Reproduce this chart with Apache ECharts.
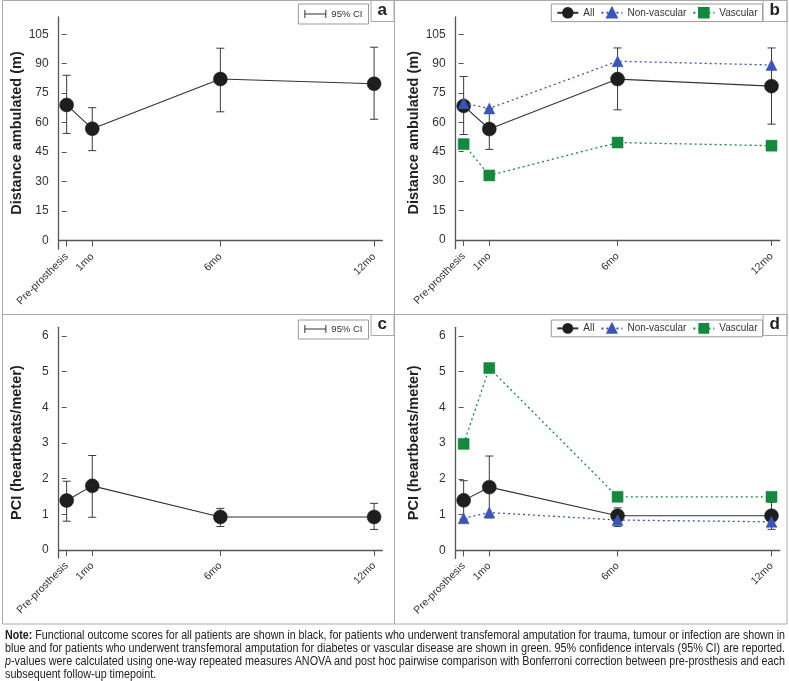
<!DOCTYPE html>
<html>
<head>
<meta charset="utf-8">
<script src="https://cdn.jsdelivr.net/npm/echarts@6/dist/echarts.min.js"></script>
<style>
  html, body { margin: 0; padding: 0; background: #fff; }
  #wrap { position: relative; width: 789px; height: 681px; overflow: hidden; }
  #chart { position: absolute; left: 0; top: 0; width: 789px; height: 681px; }
  #note { position: absolute; left: 5px; top: 629px; width: 780px;
          font-family: "Liberation Sans", Arial, sans-serif;
          font-size: 12.5px; line-height: 13px; color: #222; }
  #note .ln { display: block; height: 13px; white-space: nowrap; }
  #note .ln span { display: inline-block; white-space: nowrap; transform-origin: 0 0; }
</style>
</head>
<body>
<div id="wrap">
  <div id="chart"></div>
  <div id="note">
    <div class="ln"><span><b>Note:</b> Functional outcome scores for all patients are shown in black, for patients who underwent transfemoral amputation for trauma, tumour or infection are shown in</span></div>
    <div class="ln"><span>blue and for patients who underwent transfemoral amputation for diabetes or vascular disease are shown in green. 95% confidence intervals (95% CI) are reported.</span></div>
    <div class="ln"><span><i>p</i>-values were calculated using one-way repeated measures ANOVA and post hoc pairwise comparison with Bonferroni correction between pre-prosthesis and each</span></div>
    <div class="ln"><span>subsequent follow-up timepoint.</span></div>
  </div>
</div>
<script>
// ---- data ----
const months = [0, 1, 6, 12];
const tickLabels = ['Pre-prosthesis', '1mo', '6mo', '12mo'];
const distTicks = [0, 15, 30, 45, 60, 75, 90, 105];
const pciTicks = [0, 1, 2, 3, 4, 5, 6];

// panel a: distance, all patients
const distAllA = [69.0, 56.9, 82.2, 79.8];
const distAllALo = [54.5, 45.7, 65.5, 61.7];
const distAllAHi = [84.1, 67.6, 97.9, 98.4];
// panel b: distance by group
const distAllB = [68.4, 56.6, 82.1, 78.5];
const distAllBLo = [53.8, 46.2, 66.4, 59.1];
const distAllBHi = [83.4, 67.0, 98.0, 98.0];
const distNonVasc = [69.8, 67.1, 91.2, 89.3];
const distVasc = [48.9, 32.9, 49.7, 48.1];
// panel c: PCI, all patients
const pciAllC = [1.39, 1.80, 0.93, 0.93];
const pciAllCLo = [0.81, 0.92, 0.66, 0.58];
const pciAllCHi = [1.93, 2.65, 1.17, 1.31];
// panel d: PCI by group
const pciAllD = [1.40, 1.77, 0.97, 0.97];
const pciAllDLo = [0.88, 0.91, 0.67, 0.59];
const pciAllDHi = [1.95, 2.64, 1.19, 1.35];
const pciNonVasc = [0.90, 1.06, 0.85, 0.80];
const pciVasc = [2.98, 5.10, 1.50, 1.50];

// ---- fit note lines to the justified width ----
(function () {
  const spans = Array.from(document.querySelectorAll('#note .ln span'));
  const target = 780;
  const scales = [];
  spans.forEach((s, i) => {
    if (i < spans.length - 1) {
      const sc = target / s.getBoundingClientRect().width;
      scales.push(sc);
      s.style.transform = 'scaleX(' + sc + ')';
    }
  });
  const avg = scales.reduce((a, b) => a + b, 0) / scales.length;
  spans[spans.length - 1].style.transform = 'scaleX(' + avg + ')';
})();

// ---- styling ----
const FONT = '"Liberation Sans", Arial, sans-serif';
const AXIS_COLOR = '#555';
const TEXT_COLOR = '#333';
const BLACK = '#1e1e1e';
const BLUE = '#3a55b8';
const GREEN = '#12893d';
const BORDER = '#aaa';

const pts = (vals) => months.map((m, i) => [m, vals[i]]);
const errPts = (lo, hi) => months.map((m, i) => [m, lo[i], hi[i]]);

function errRender(params, api) {
  const x = api.value(0);
  const pLo = api.coord([x, api.value(1)]);
  const pHi = api.coord([x, api.value(2)]);
  const w = 4;
  const style = { stroke: '#3a3a3a', lineWidth: 1, fill: 'none' };
  return {
    type: 'group',
    children: [
      { type: 'line', shape: { x1: pLo[0], y1: pLo[1], x2: pHi[0], y2: pHi[1] }, style },
      { type: 'line', shape: { x1: pLo[0] - w, y1: pLo[1], x2: pLo[0] + w, y2: pLo[1] }, style },
      { type: 'line', shape: { x1: pHi[0] - w, y1: pHi[1], x2: pHi[0] + w, y2: pHi[1] }, style }
    ]
  };
}

const gridsPos = [
  { left: 58.7, top: 17, width: 323.6, height: 232 },
  { left: 455.7, top: 17, width: 324, height: 231.5 },
  { left: 58.7, top: 327.3, width: 323.6, height: 230.7 },
  { left: 455.7, top: 327.3, width: 324, height: 231 }
];

const xAxes = gridsPos.map((g, i) => ({
  type: 'value', gridIndex: i, min: -0.31, max: 12.32,
  axisLine: { show: true, lineStyle: { color: AXIS_COLOR, width: 1.3 } },
  axisTick: { show: true, length: 6, lineStyle: { color: AXIS_COLOR, width: 1 }, customValues: months },
  axisLabel: {
    customValues: months, rotate: 45, margin: 6,
    fontFamily: FONT, fontSize: 10.5, color: TEXT_COLOR,
    formatter: (v) => { const k = months.indexOf(v); return k >= 0 ? tickLabels[k] : ''; }
  },
  splitLine: { show: false }
}));

const yAxes = [];
gridsPos.forEach((g, i) => {
  const isDist = i < 2;
  const ticks = isDist ? distTicks : pciTicks;
  const mn = isDist ? -4.4 : -0.22;
  const mx = isDist ? 113.8 : 6.24;
  yAxes.push({
    type: 'value', gridIndex: i, min: mn, max: mx, offset: 3,
    name: isDist ? 'Distance ambulated (m)' : 'PCI (heartbeats/meter)',
    nameLocation: 'middle', nameGap: 31,
    nameTextStyle: { fontFamily: FONT, fontSize: 14.5, fontWeight: 'bold', color: '#222' },
    axisLine: { show: false },
    axisTick: { show: true, length: 5, customValues: ticks, lineStyle: { color: AXIS_COLOR } },
    axisLabel: { customValues: ticks, margin: 7, fontFamily: FONT, fontSize: 12, color: TEXT_COLOR },
    splitLine: { show: false }
  });
  yAxes.push({
    type: 'value', gridIndex: i, min: mn, max: mx, position: 'left',
    axisLine: { show: true, lineStyle: { color: AXIS_COLOR, width: 1.3 } },
    axisTick: { show: false }, axisLabel: { show: false }, splitLine: { show: false }
  });
});

function errSeries(name, gi, lo, hi) {
  return {
    name, type: 'custom', xAxisIndex: gi, yAxisIndex: gi * 2,
    renderItem: errRender, data: errPts(lo, hi), itemStyle: { color: '#333' },
    encode: { x: 0, y: [1, 2] }, z: 1, silent: true
  };
}
function lineSeries(name, gi, vals, color, symbol, size, dotted) {
  return {
    name, type: 'line', xAxisIndex: gi, yAxisIndex: gi * 2, data: pts(vals),
    symbol, symbolSize: size, showSymbol: true,
    itemStyle: { color, borderColor: color, borderWidth: 0.5 },
    lineStyle: { color: dotted ? color : '#333', width: dotted ? 1.3 : 1.1, type: dotted ? [2, 3] : 'solid' },
    z: dotted ? 3 : 2, animation: false
  };
}

const series = [
  errSeries('95% CI', 0, distAllALo, distAllAHi),
  lineSeries('All_a', 0, distAllA, BLACK, 'circle', 14, false),
  errSeries('CI_b', 1, distAllBLo, distAllBHi),
  lineSeries('All', 1, distAllB, BLACK, 'circle', 14, false),
  lineSeries('Non-vascular', 1, distNonVasc, BLUE, 'triangle', 11, true),
  lineSeries('Vascular', 1, distVasc, GREEN, 'rect', 11, true),
  errSeries('95% CI', 2, pciAllCLo, pciAllCHi),
  lineSeries('All_c', 2, pciAllC, BLACK, 'circle', 14, false),
  errSeries('CI_d', 3, pciAllDLo, pciAllDHi),
  lineSeries('All', 3, pciAllD, BLACK, 'circle', 14, false),
  lineSeries('Non-vascular', 3, pciNonVasc, BLUE, 'triangle', 11, true),
  lineSeries('Vascular', 3, pciVasc, GREEN, 'rect', 11, true)
];

const ciIcon = 'path://M0,0h1v8h-1zM0,3.5h22v1h-22zM21,0h1v8h-1z';
const legendBase = {
  orient: 'horizontal', borderColor: '#999', borderWidth: 1, selectedMode: false,
  textStyle: { fontFamily: FONT, fontSize: 10, color: TEXT_COLOR }
};
const legends = [
  Object.assign({}, legendBase, { top: 4, right: 420.5, padding: [5, 6, 5, 6], itemWidth: 22, itemHeight: 8, itemGap: 6,
    textStyle: { fontFamily: FONT, fontSize: 9.5, color: TEXT_COLOR },
    data: [{ name: '95% CI', icon: ciIcon }] }),
  Object.assign({}, legendBase, { top: 320, right: 420.5, padding: [4, 6, 5, 6], itemWidth: 22, itemHeight: 8, itemGap: 6,
    textStyle: { fontFamily: FONT, fontSize: 9.5, color: TEXT_COLOR },
    data: [{ name: '95% CI', icon: ciIcon }] }),
  Object.assign({}, legendBase, { top: 4, right: 26.5, padding: [3, 5, 3, 5], itemWidth: 21, itemHeight: 12, itemGap: 6,
    data: ['All', 'Non-vascular', 'Vascular'] }),
  Object.assign({}, legendBase, { top: 320, right: 26.5, padding: [3, 5, 3, 5], itemWidth: 21, itemHeight: 11, itemGap: 6,
    data: ['All', 'Non-vascular', 'Vascular'] })
];

const titleBase = { borderColor: BORDER, borderWidth: 1, padding: [2, 7, 3, 7],
  textStyle: { fontFamily: FONT, fontSize: 17, fontWeight: 'bold', color: '#222' } };
const titles = [
  Object.assign({}, titleBase, { text: 'a', right: 395, top: 0 }),
  Object.assign({}, titleBase, { text: 'b', right: 2, top: 0 }),
  Object.assign({}, titleBase, { text: 'c', right: 395, top: 314 }),
  Object.assign({}, titleBase, { text: 'd', right: 2, top: 314 })
];

const chart = echarts.init(document.getElementById('chart'), null, { renderer: 'canvas' });
chart.setOption({
  animation: false,
  backgroundColor: 'transparent',
  title: titles,
  legend: legends,
  grid: gridsPos.map(g => Object.assign({ containLabel: false }, g)),
  xAxis: xAxes,
  yAxis: yAxes,
  series,
  graphic: [
    { type: 'rect', silent: true, shape: { x: 2.5, y: 0.5, width: 784.5, height: 623.5 }, style: { fill: 'none', stroke: BORDER, lineWidth: 1 } },
    { type: 'line', silent: true, shape: { x1: 394.5, y1: 0, x2: 394.5, y2: 624 }, style: { stroke: BORDER, lineWidth: 1 } },
    { type: 'line', silent: true, shape: { x1: 2, y1: 314.5, x2: 787, y2: 314.5 }, style: { stroke: BORDER, lineWidth: 1 } }
  ]
});
</script>
</body>
</html>
